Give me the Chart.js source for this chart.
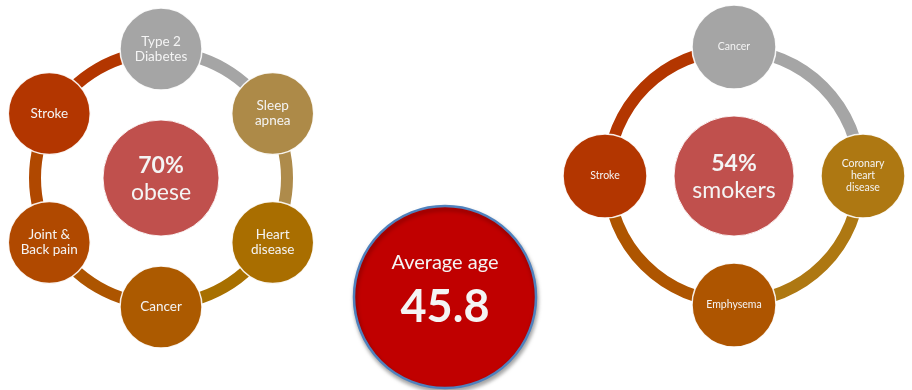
<!DOCTYPE html>
<html>
<head>
<meta charset="utf-8">
<script src="https://cdn.jsdelivr.net/npm/chart.js@4.4.1/dist/chart.umd.min.js"></script>
<style>
	html, body { margin: 0; padding: 0; background: #fff; }
	#stage { position: relative; width: 912px; height: 390px; overflow: hidden; background: #fff; }
	#stage canvas { position: absolute; }
</style>
</head>
<body>
<div id="stage">
	<canvas id="obeseRing"  width="346" height="346" style="left:-12px;top:5px"></canvas>
	<canvas id="obeseNodes" width="346" height="346" style="left:-12px;top:5px"></canvas>
	<canvas id="smokeRing"  width="346" height="346" style="left:561px;top:3px"></canvas>
	<canvas id="smokeNodes" width="346" height="346" style="left:561px;top:3px"></canvas>
	<canvas id="age"        width="200" height="200" style="left:345px;top:197px"></canvas>
</div>
<script>
	// Left cycle: conditions linked to obesity
	const OBESE_LABELS      = [['Type 2', 'Diabetes'], ['Sleep', 'apnea'], ['Heart', 'disease'], ['Cancer'], ['Joint &', 'Back pain'], ['Stroke']];
	const OBESE_COLORS      = ['#A5A5A5', '#AD8A48', '#A96E00', '#AC5A00', '#B04900', '#B33600'];
	const OBESE_RING_COLORS = ['#A5A5A5', '#AE8B4B', '#A87000', '#AD5500', '#B04800', '#B33600'];
	const OBESE_CENTER      = ['70%', 'obese'];

	// Right cycle: conditions linked to smoking
	const SMOKE_LABELS      = [['Cancer'], ['Coronary', 'heart', 'disease'], ['Emphysema'], ['Stroke']];
	const SMOKE_COLORS      = ['#A5A5A5', '#AE7812', '#AE5500', '#B33600'];
	const SMOKE_RING_COLORS = ['#A5A5A5', '#AE7812', '#AE5500', '#B33600'];
	const SMOKE_CENTER      = ['54%', 'smokers'];

	// Middle
	const AGE_TITLE = 'Average age';
	const AGE_VALUE = 45.8;

	const FONT     = 'Lato, "Open Sans", sans-serif';
	const TEXT_COL = '#F4F4F4';

	// draws the text lines of each point on top of it
	const pointText = {
		id: 'pointText',
		afterDatasetsDraw(chart) {
			const ctx = chart.ctx;
			chart.data.datasets.forEach((ds, di) => {
				if (!ds.lines) return;
				chart.getDatasetMeta(di).data.forEach((pt, i) => {
					const lines = ds.lines[i];
					if (!lines || pt.skip) return;
					ctx.save();
					ctx.fillStyle    = TEXT_COL;
					ctx.textAlign    = 'center';
					ctx.textBaseline = 'middle';
					lines.forEach((txt, k) => {
						const off = (k - (lines.length - 1) / 2) * ds.lineGap + (ds.textShift || 0);
						ctx.font = ds.fonts ? ds.fonts[k] : ds.font;
						ctx.fillText(txt, pt.x, pt.y + off);
					});
					ctx.restore();
				});
			});
		}
	};

	function ring(id, colors, outer, inner) {
		new Chart(document.getElementById(id), {
			type: 'doughnut',
			data: { datasets: [{
				data: colors.map(() => 1),
				backgroundColor: colors,
				borderWidth: 0
			}]},
			options: {
				responsive: false,
				animation: false,
				events: [],
				radius: outer,
				cutout: (inner / outer * 100) + '%',
				plugins: { legend: { display: false }, tooltip: { enabled: false } }
			}
		});
	}

	function nodes(id, labels, colors, nodeR, center, centerR, font) {
		new Chart(document.getElementById(id), {
			type: 'radar',
			data: {
				labels: labels.map(l => l.join(' ')),
				datasets: [
					{
						data: labels.map(() => 1),
						showLine: false,
						fill: false,
						pointRadius: nodeR,
						pointBackgroundColor: colors,
						pointBorderColor: 'rgba(255,255,255,0.9)',
						pointBorderWidth: 1.5,
						clip: false,
						lines: labels,
						font: font,
						lineGap: labels === SMOKE_LABELS ? 12 : 15
					},
					{
						data: labels.map((l, i) => i === 0 ? 0 : null),
						showLine: false,
						fill: false,
						pointRadius: centerR,
						pointBackgroundColor: '#C0504D',
						pointBorderColor: 'rgba(255,255,255,0.9)',
						pointBorderWidth: 1,
						clip: false,
						lines: [center],
						fonts: ['bold 23px ' + FONT, '23px ' + FONT],
						lineGap: 27,
						textShift: 1.5
					}
				]
			},
			options: {
				responsive: false,
				animation: false,
				events: [],
				layout: { padding: 44 },
				plugins: { legend: { display: false }, tooltip: { enabled: false } },
				scales: {
					r: {
						min: 0,
						max: 1,
						grid: { display: false },
						angleLines: { display: false },
						ticks: { display: false },
						pointLabels: { display: false }
					}
				}
			},
			plugins: [pointText]
		});
	}

	ring('obeseRing', OBESE_RING_COLORS, 132, 120);
	ring('smokeRing', SMOKE_RING_COLORS, 132, 120);
	nodes('obeseNodes', OBESE_LABELS, OBESE_COLORS, 41, OBESE_CENTER, 58, '13.5px ' + FONT);
	nodes('smokeNodes', SMOKE_LABELS, SMOKE_COLORS, 42, SMOKE_CENTER, 60, '10.5px ' + FONT);

	// soft drop shadow under the big circle
	const shadow = {
		id: 'shadow',
		beforeDatasetsDraw(chart) {
			const ctx = chart.ctx;
			ctx.save();
			ctx.shadowColor   = 'rgba(0,0,0,0.35)';
			ctx.shadowBlur    = 4;
			ctx.shadowOffsetX = 1;
			ctx.shadowOffsetY = 3;
		},
		afterDatasetsDraw(chart) { chart.ctx.restore(); }
	};

	new Chart(document.getElementById('age'), {
		type: 'bubble',
		data: { datasets: [{
			data: [{ x: 0, y: 0 }],
			radius: 91,
			backgroundColor: '#C00000',
			borderColor: '#4F81BD',
			borderWidth: 2.5,
			clip: false,
			lines: [[AGE_TITLE, AGE_VALUE.toFixed(1)]],
			fonts: ['20px ' + FONT, 'bold 45px ' + FONT],
			lineGap: 44,
			textShift: -12
		}]},
		options: {
			responsive: false,
			animation: false,
			events: [],
			plugins: { legend: { display: false }, tooltip: { enabled: false } },
			scales: {
				x: { display: false, min: -1, max: 1 },
				y: { display: false, min: -1, max: 1 }
			}
		},
		plugins: [shadow, pointText]
	});
</script>
</body>
</html>
